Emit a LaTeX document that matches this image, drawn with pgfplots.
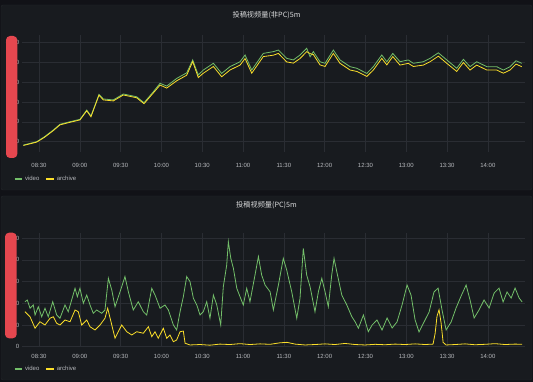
\documentclass[border=0pt]{standalone}
\usepackage{pgfplots}
\pgfplotsset{compat=1.18}
\usepackage{fontspec}
\setmainfont{Liberation Sans}
\newfontfamily\cjk{Noto Sans CJK SC}
\definecolor{bgout}{HTML}{111217}
\definecolor{panel}{HTML}{181B1F}
\definecolor{pborder}{HTML}{24272C}
\definecolor{gridc}{HTML}{2A2D33}
\definecolor{ticktxt}{HTML}{B7B9BD}
\definecolor{titletxt}{HTML}{D8D9DA}
\definecolor{gvideo}{HTML}{73BF69}
\definecolor{yarch}{HTML}{FADE2A}
\definecolor{redbox}{HTML}{E5474F}
\pgfplotsset{
  dash/.style={
    scale only axis, width=503pt,
    xmin=497.5, xmax=867.3,
    xtick={510,540,570,600,630,660,690,720,750,780,810,840},
    xticklabels={08:30,09:00,09:30,10:00,10:30,11:00,11:30,12:00,12:30,13:00,13:30,14:00},
    grid=major, major grid style={draw=gridc, line width=0.5pt},
    axis line style={draw=none}, major tick length=0pt,
    tick label style={font=\fontsize{6}{7}\selectfont, text=ticktxt, inner sep=0pt},
    yticklabel style={anchor=east, xshift=-2.5pt},
    legend columns=-1,
    legend image code/.code={\draw[#1, line width=2pt] (0pt,0pt) -- (7.5pt,0pt);},
    legend style={draw=none, fill=none, text=ticktxt, font=\fontsize{6}{7}\selectfont,
      inner sep=0pt, at={(axis description cs:0,0)}, anchor=west,
      /tikz/every even column/.append style={column sep=4pt}},
  }
}
\begin{document}
\begin{tikzpicture}
\fill[bgout] (0pt,0pt) rectangle (533pt,-382pt);
\filldraw[fill=panel, draw=pborder, rounded corners=2pt] (1pt,-5pt) rectangle (532pt,-190pt);
\filldraw[fill=panel, draw=pborder, rounded corners=2pt] (1pt,-196pt) rectangle (532pt,-380pt);
\node[font=\cjk\fontsize{7.2}{8}\selectfont, text=titletxt] at (266.5pt,-15pt) {投稿视频量(非PC)5m};
\node[font=\cjk\fontsize{7.2}{8}\selectfont, text=titletxt] at (266.5pt,-205.5pt) {投稿视频量(PC)5m};

\begin{axis}[dash, at={(22pt,-152pt)}, anchor=south west, height=117pt,
  ymin=48, ymax=639,
  ytick={100,200,300,400,500,600},
  yticklabels={1500,2000,2500,3000,3500,4000},
  xticklabel style={yshift=-11pt},
  legend style={xshift=-8.7pt, yshift=-27pt}]
\addplot[gvideo, line width=0.8pt] coordinates {
(498.5,83)(508.3,100)(514,125)(520.5,159)(525.4,188)(532.8,201)(540.1,213)(545.1,260)
(548.2,230)(554.1,339)(557.3,316)(564.6,311)(572.0,341)(581.8,327)(587.2,297)(594.0,352)
(599.0,395)(603.9,381)(611.3,420)(618.6,448)(623.0,513)(627.1,437)(630.8,462)(638.2,496)
(644.3,445)(650.4,479)(657.8,504)(661.5,538)(666.4,462)(674.9,546)(682.3,555)(686.0,563)
(692.1,521)(697.0,513)(701.9,538)(706.8,572)(709.3,529)(711.7,555)(716.6,504)(720.3,496)
(726.4,563)(731.3,513)(738.7,479)(743.6,471)(751.0,445)(755.8,479)(762.0,538)(765.7,504)
(770.1,546)(775.4,504)(781.5,513)(785.2,496)(792.6,504)(797.5,521)(803.6,549)(809.8,513)
(817.1,471)(822.0,516)(826.9,479)(831.8,504)(839.2,479)(846.5,479)(851.4,462)(856.3,479)
(860.7,509)(864.9,496)};
\addlegendentry{video}
\addplot[yarch, line width=0.8pt] coordinates {
(498.5,81)(508.3,98)(514,122)(520.5,156)(525.4,185)(532.8,198)(540.1,210)(545.1,256)
(548.2,226)(554.1,335)(557.3,311)(564.6,306)(572.0,336)(581.8,322)(587.2,292)(594.0,346)
(599.0,386)(603.9,371)(611.3,408)(618.6,436)(623.0,505)(627.1,424)(630.8,446)(638.2,480)
(644.3,428)(650.4,462)(657.8,487)(661.5,520)(666.4,446)(674.9,530)(682.3,537)(686.0,546)
(692.1,503)(697.0,497)(701.9,520)(706.8,555)(709.3,545)(711.7,540)(716.6,488)(720.3,480)
(726.4,546)(731.3,496)(738.7,462)(743.6,455)(751.0,430)(755.8,462)(762.0,521)(765.7,488)
(770.1,530)(775.4,487)(781.5,496)(785.2,480)(792.6,487)(797.5,504)(803.6,532)(809.8,496)
(817.1,455)(822.0,500)(826.9,462)(831.8,487)(839.2,462)(846.5,462)(851.4,446)(856.3,462)
(860.7,492)(864.9,479)};
\addlegendentry{archive}
\end{axis}

\begin{axis}[dash, at={(22pt,-346.7pt)}, anchor=south west, height=114pt,
  ymin=0, ymax=52.5,
  ytick={0,10,20,30,40,50},
  yticklabels={0,10,20,30,40,50},
  xticklabel style={yshift=-7.3pt},
  legend style={xshift=-8.7pt, yshift=-22.3pt}]
\addplot[gvideo, line width=0.8pt] coordinates {
(499.7,20.7)(501.4,21.5)(503.4,17.7)(505.8,19.2)(507.1,14.6)(509.5,18.4)(512.0,13.8)(514.4,17.7)
(516.8,13.8)(520.1,20.7)(523.0,14.6)(525.4,13.1)(529.1,19.2)(531.5,16.1)(536.5,26.9)(538.2,23.0)
(540.1,26.9)(542.6,20.0)(545.1,23.8)(547.5,19.2)(549.9,15.4)(552.4,16.9)(556.1,15.4)(558.5,16.9)
(561.0,31.5)(563.5,26.1)(565.9,18.4)(569.6,25.3)(573.2,32.3)(575.7,25.3)(579.3,16.9)(583.0,20.7)
(586.7,16.1)(589.2,14.6)(592.9,26.9)(595.3,23.8)(599.0,17.7)(602.6,19.2)(605.1,16.9)(608.8,10.0)
(611.2,7.7)(613.7,16.1)(616.1,23.0)(618.6,32.3)(621.0,30.0)(623.5,22.3)(626.0,19.2)(628.4,14.6)
(630.8,16.1)(633.3,20.7)(635.7,13.1)(638.2,23.8)(640.7,19.2)(643.6,10.0)(645.5,27.6)(648.0,37.6)
(649.2,48.4)(651.0,40.7)(652.9,36.1)(655.4,26.9)(657.8,23.0)(660.2,19.2)(662.7,26.9)(665.1,20.7)
(668.8,33.0)(671.3,41.5)(673.7,33.0)(676.2,28.4)(679.9,25.3)(682.3,16.9)(686.0,28.4)(689.6,40.7)
(692.1,35.3)(695.8,25.3)(699.5,13.1)(701.9,22.3)(704.3,45.3)(706.8,33.0)(709.3,27.6)(712.9,16.1)
(715.4,25.3)(717.9,31.5)(720.3,25.3)(722.7,18.4)(725.2,33.0)(726.9,40.7)(728.9,34.6)(732.6,23.8)
(736.3,19.2)(740.0,13.8)(742.4,11.5)(744.8,8.5)(748.5,14.6)(752.1,6.9)(754.9,10.0)(758.5,12.3)
(762.2,7.7)(765.9,13.2)(769.6,8.6)(773.2,11.4)(776.9,19.2)(780.6,28.4)(783.5,23.8)(786.5,12.3)
(789.4,6.8)(793.1,11.4)(796.8,16.0)(800.4,25.2)(803.4,27.0)(806.3,16.9)(809.3,7.7)(813.0,11.4)
(816.6,17.8)(820.3,23.3)(824.0,28.4)(826.9,21.5)(829.9,13.2)(833.5,16.9)(837.2,21.5)(840.9,17.8)
(844.6,24.7)(848.2,27.0)(851.2,20.6)(854.1,25.2)(857.1,22.4)(860.0,27.0)(863.0,22.4)(865.2,20.6)};
\addlegendentry{video}
\addplot[yarch, line width=0.8pt] coordinates {
(499.7,16.1)(503.4,13.8)(507.1,8.5)(510.7,11.5)(514.4,10.0)(518.1,13.1)(520.5,13.8)(523.0,10.8)
(525.4,10.0)(529.1,12.3)(532.8,11.5)(536.5,16.9)(538.9,16.1)(541.4,10.0)(545.1,12.3)(547.5,9.2)
(551.2,7.7)(554.9,10.0)(558.5,13.1)(560.5,17.7)(563.5,10.0)(565.9,3.9)(568.3,6.9)(570.8,10.0)
(574.5,6.9)(578.2,5.4)(581.8,6.9)(586.7,6.2)(590.4,9.2)(592.9,4.6)(595.3,6.9)(597.7,3.9)
(601.4,8.5)(603.9,3.9)(606.3,5.4)(608.8,2.3)(611.2,3.1)(613.7,6.9)(616.1,7.2)(617.4,1.6)
(621.0,0.8)(628.4,1.0)(635.7,0.7)(643.0,1.2)(650.3,1.0)(657.8,1.4)(665.1,1.0)(672.5,1.3)
(679.9,1.1)(687.2,1.8)(692.4,2.0)(698.2,1.2)(705.6,0.8)(712.9,1.0)(720.3,1.3)(727.6,1.0)
(735.0,1.5)(742.4,1.0)(749.7,0.8)(757.1,1.1)(764.4,0.9)(771.8,1.2)(779.1,1.0)(786.5,1.3)
(793.8,1.0)(799.7,1.2)(801.2,6)(802.6,14)(804.1,17)(805.6,11)(807.1,2)(809.3,0.8)
(815.9,1.0)(823.2,1.3)(830.6,0.9)(837.9,1.1)(845.3,1.4)(852.6,1.0)(860.0,1.2)(865.2,1.1)};
\addlegendentry{archive}
\end{axis}

\fill[redbox, rounded corners=4pt] (6pt,-36pt) rectangle (17.3pt,-158pt);
\fill[redbox, rounded corners=4pt] (5pt,-232.7pt) rectangle (16.7pt,-338.3pt);
\end{tikzpicture}
\end{document}
